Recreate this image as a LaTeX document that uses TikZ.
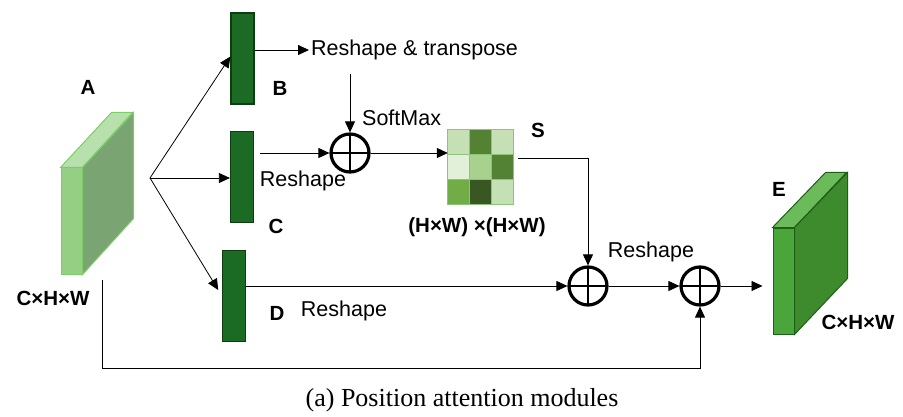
\documentclass[tikz,border=0pt]{standalone}
\usepackage{fontspec}
\setmainfont{Liberation Sans}
\newfontfamily\capfont{Liberation Serif}
\usepackage{tikz}
\usetikzlibrary{positioning, arrows.meta}

\definecolor{bargreen}{HTML}{1B6B24}
\definecolor{barline}{HTML}{0F3D12}
\definecolor{afront}{HTML}{94CF84}
\definecolor{atop}{HTML}{B8E0AC}
\definecolor{aside}{HTML}{7AA572}
\definecolor{aline}{HTML}{7CCC6A}
\definecolor{efront}{HTML}{4AA63A}
\definecolor{etop}{HTML}{6BBB5A}
\definecolor{eside}{HTML}{3E8B2E}
\definecolor{eline}{HTML}{1E5E16}
\definecolor{mlight}{HTML}{C5E0B4}
\definecolor{mpale}{HTML}{E2F0D9}
\definecolor{mmid}{HTML}{A9D18E}
\definecolor{mgreen}{HTML}{70AD47}
\definecolor{mdark}{HTML}{548235}
\definecolor{mdeep}{HTML}{385723}
\definecolor{mline}{HTML}{8CC57A}

\begin{document}
\begin{tikzpicture}[
        x=1pt, y=-1pt,
        every node/.style={font=\fontsize{21.5}{25}\selectfont},
        % Feature bars B, C, D
        bar/.style={
            rectangle, draw=barline, fill=bargreen, line width=1.2pt,
            minimum width=23pt, minimum height=91pt, inner sep=0pt
        },
        % Front face of a feature block
        face/.style={
            rectangle, line width=1pt,
            minimum width=21pt, minimum height=106pt, inner sep=0pt
        },
        % Element-wise sum
        plus/.style={
            circle, draw, line width=3.2pt, minimum size=38pt, inner sep=0pt,
            path picture={
                \draw[line width=1.3pt]
                    (path picture bounding box.north) -- (path picture bounding box.south)
                    (path picture bounding box.west) -- (path picture bounding box.east);
            }
        },
        % Bold letters and sizes
        tag/.style={font=\fontsize{20.5}{24}\selectfont\bfseries},
        % Connectors
        arrow/.style={-{Triangle[length=11pt, width=10pt]}, line width=0.8pt}
    ]

        \useasboundingbox (0,0) rectangle (903,417);

        % Input block A
        \node[face, fill=afront, draw=aline] (A) at (71.5,221) {};
        \filldraw[fill=atop, draw=aline, line width=1pt]
            (A.north west) -- ++(51,-55) -- ++(21,0) -- (A.north east) -- cycle;
        \filldraw[fill=aside, draw=aline, line width=1pt]
            (A.north east) -- ++(51,-55) -- ++(0,106) -- (A.south east) -- cycle;
        \node[tag] (labA) at (88,87) {A};
        \node[tag] (sizeA) at (53,298) {C×H×W};

        % Bars
        \node[bar] (B) at (242.5,58.5) {};
        \node[bar] (C) at (242,177) {};
        \node[bar] (D) at (234,296) {};
        \node[tag] (labB) at (280,88) {B};
        \node[tag] (labC) at (276,226) {C};
        \node[tag] (labD) at (277,313) {D};

        % Sums
        \node[plus] (P1) at (350,153) {};
        \node[plus] (P2) at (588,286) {};
        \node[plus] (P3) at (700,286) {};

        % Attention map S
        \node[inner sep=0pt, minimum width=66pt, minimum height=75pt] (map) at (481,167.5) {};
        \foreach \col/\row/\cc in {0/0/mlight, 1/0/mdark, 2/0/mlight,
                                   0/1/mpale, 1/1/mmid, 2/1/mdark,
                                   0/2/mgreen, 1/2/mdeep, 2/2/mlight}
            \filldraw[fill=\cc, draw=mline, line width=1.2pt, shift={(map.north west)}]
                (\col*22,\row*25) rectangle ++(22,25);
        \node[tag] (labS) at (538,130) {S};
        \node[tag] (sizeS) at (477,227) {(H×W) ×(H×W)};

        % Output block E
        \node[face, fill=efront, draw=eline] (E) at (783.5,281) {};
        \filldraw[fill=etop, draw=eline, line width=1pt]
            (E.north west) -- ++(53,-55) -- ++(21,0) -- (E.north east) -- cycle;
        \filldraw[fill=eside, draw=eline, line width=1pt]
            (E.north east) -- ++(53,-55) -- ++(0,106) -- (E.south east) -- cycle;
        \node[tag] (labE) at (779,189) {E};
        \node[tag] (sizeE) at (858,322) {C×H×W};

        % Texts
        \node[anchor=west, inner sep=2pt] (rt) at (309,50) {Reshape \& transpose};
        \node[anchor=west, inner sep=0pt] (soft) at (362,118) {SoftMax};
        \node (reC) at (303,181) {Reshape};
        \node (reD) at (344,311) {Reshape};
        \node (reS) at (651,252) {Reshape};

        % Fork out of A
        \coordinate (fork) at (150,178);
        \draw[arrow] (fork) -- ([yshift=2pt]B.west);
        \draw[arrow] (fork) -- (fork -| C.west);
        \draw[arrow, shorten >=7pt] (fork) -- (D.west);

        % Connections
        \draw[arrow] (B.east |- rt.west) -- (rt.west);
        \draw[arrow, shorten <=12pt] (P1 |- rt.south) -- (P1.north);
        \draw[arrow, shorten <=6pt] (C.east |- P1.west) -- (P1.west);
        \draw[arrow] (P1.east) -- (P1.east -| map.west);
        \draw[arrow, shorten <=4pt] ([yshift=9.5pt]map.east) -| (P2.north);
        \draw[arrow] (D.east |- P2.west) -- (P2.west);
        \draw[arrow] (P2.east) -- (P3.west);
        \draw[arrow, shorten >=10pt] (P3.east) -- (P3.east -| E.west);

        % Skip from A
        \coordinate (skip) at (102,280);
        \draw[arrow] (skip) -- (102,368) -| (P3.south);

        % Caption
        \node[font=\fontsize{26}{30}\selectfont\capfont] (cap) at (462,400) {(a) Position attention modules};

    \end{tikzpicture}
\end{document}
